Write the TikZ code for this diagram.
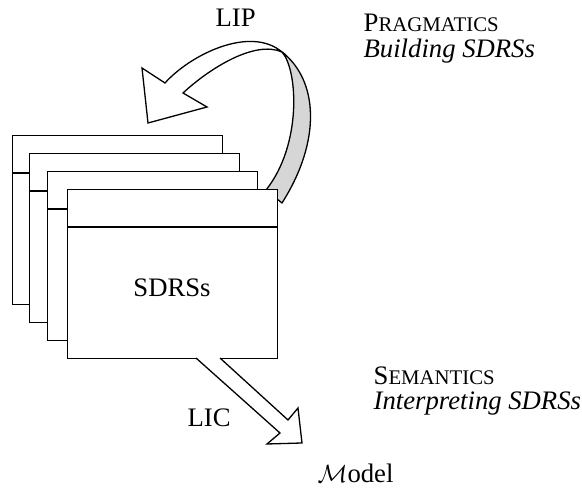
\documentclass[tikz,border=0pt]{standalone}
\usepackage{fontspec}
\setmainfont{Liberation Serif}
\usetikzlibrary{calc}

\newcommand{\fakesc}[2]{#1{\fontsize{20.8}{20.8}\selectfont #2}}

\begin{document}
\begin{tikzpicture}[
  x=1pt,y=-1pt,
  line width=1.3pt,
  big/.style={inner sep=0pt,font=\fontsize{26.7}{26.7}\selectfont},
  page/.style={draw,fill=white,inner sep=0pt,minimum width=210pt,
               minimum height=169pt,anchor=north west},
  band/.style={draw,line join=round,fill=black!16},
  ribbon/.style={draw,line join=miter,fill=white}
]
\useasboundingbox (0,0) rectangle (582,489);

% ---- LIP: twisted arrow over the stack ----
\draw[band] (282,52) .. controls (318,80) and (322,140) .. (282,203)
  -- (266,190) .. controls (302,145) and (298,70) .. cycle;
\draw[ribbon] (282,52) .. controls (250,25) and (190,55) .. (165,83)
  -- (142,68) -- (148,123) -- (207,107) -- (183,93)
  .. controls (210,68) and (255,40) .. cycle;

% ---- stack of SDRSs ----
\node[page] (pg1) at (12,135) {};
\draw ($(pg1.north west)+(0,38)$) -- ($(pg1.north east)+(0,38)$);
\node[page] (pg2) at (29,153) {};
\draw ($(pg2.north west)+(0,38)$) -- ($(pg2.north east)+(0,38)$);
\node[page] (pg3) at (47,171) {};
\draw ($(pg3.north west)+(0,38)$) -- ($(pg3.north east)+(0,38)$);
\node[page] (pg4) at (67,189) {};
\draw ($(pg4.north west)+(0,38)$) -- ($(pg4.north east)+(0,38)$);
\node[big,anchor=base] (sdrs) at (172,297) {SDRSs};

% ---- LIC: arrow down to the model ----
\draw[ribbon] (196,358) -- (280,433) -- (267,444) -- (302,443)
  -- (298,408) -- (288,420) -- (220,358);

% ---- labels ----
\node[big,anchor=base west] (lip) at (215,27) {LIP};
\node[big,anchor=base west] (lic) at (187,427) {LIC};
\node[big,anchor=base west] (prag) at (363,32) {\fakesc{P}{RAGMATICS}};
\node[big,anchor=base west] (build) at (363,58) {\itshape Building SDRSs};
\node[big,anchor=base west] (sem) at (373,385) {\fakesc{S}{EMANTICS}};
\node[big,anchor=base west] (interp) at (373,410) {\itshape Interpreting SDRSs};
\node[big,anchor=base west] (model) at (317,483) {$\mathcal{M}$odel};

\end{tikzpicture}
\end{document}
